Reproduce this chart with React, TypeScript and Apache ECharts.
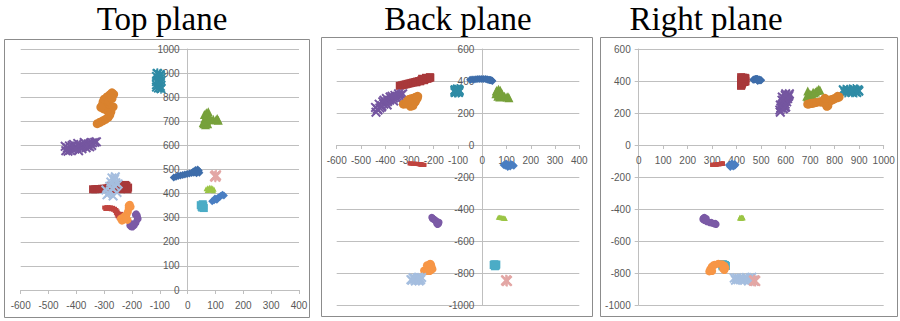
import React, { useEffect, useRef } from "react";
import * as echarts from "echarts";

// Each marker cloud is a list of 3-D samples [x, y, z].
// Top plane plots (x, z), back plane (x, y), right plane (z, y).
type P3 = [number, number, number];

const blueBig: P3[] = [
  [-50, 408, 467], [-42, 409, 470], [-34, 410, 473], [-26, 411, 475], [-18, 412, 477],
  [-10, 413, 479], [-2, 413, 481], [6, 413, 483], [14, 412, 485], [22, 410, 487],
  [28, 408, 489], [34, 406, 492], [40, 403, 495], [36, 404, 500], [28, 406, 498],
  [42, 400, 486], [32, 405, 484], [20, 409, 492],
];
const redBig: P3[] = [
  [-340, 370, 418], [-332, 373, 418], [-324, 376, 419], [-316, 379, 419], [-308, 382, 420],
  [-300, 385, 420], [-292, 388, 421], [-284, 391, 424], [-276, 394, 430], [-268, 397, 434],
  [-260, 400, 428], [-252, 404, 422], [-244, 407, 434], [-236, 411, 428], [-228, 414, 420],
  [-220, 418, 432], [-214, 421, 425], [-272, 392, 418], [-256, 398, 436], [-240, 405, 418],
  [-224, 416, 436], [-216, 424, 418], [-232, 420, 433], [-248, 414, 426],
];
const greenBig: P3[] = [
  [60, 340, 728], [67, 348, 735], [74, 342, 740], [70, 332, 722], [62, 330, 712],
  [56, 320, 695], [58, 338, 690], [64, 305, 686], [72, 300, 690], [68, 315, 702],
  [82, 312, 706], [92, 305, 708], [102, 300, 706], [110, 296, 704], [106, 302, 712],
  [80, 325, 716],
];
const purpleBig: P3[] = [
  [-438, 205, 578], [-430, 218, 576], [-422, 232, 580], [-414, 245, 584], [-406, 255, 588],
  [-398, 265, 592], [-390, 272, 596], [-382, 280, 598], [-374, 287, 601], [-366, 293, 604],
  [-358, 299, 606], [-350, 304, 609], [-342, 309, 611], [-334, 314, 613], [-328, 320, 615],
  [-425, 255, 598], [-410, 270, 604], [-395, 290, 608], [-380, 300, 586], [-365, 275, 590],
  [-440, 235, 596], [-352, 290, 594], [-372, 305, 612], [-415, 238, 600], [-392, 250, 578],
  [-432, 225, 590], [-345, 320, 600], [-405, 280, 585], [-360, 310, 598],
];
const tealBig: P3[] = [
  [-110, 340, 898], [-100, 346, 894], [-112, 335, 886], [-96, 340, 880], [-108, 330, 870],
  [-100, 338, 860], [-112, 345, 852], [-98, 332, 845], [-105, 340, 838], [-96, 345, 835],
  [-112, 328, 842], [-103, 350, 876], [-108, 336, 898], [-98, 328, 890], [-112, 342, 865],
  [-96, 336, 868],
];
const orangeBig: P3[] = [
  [-325, 255, 690], [-315, 257, 696], [-305, 259, 702], [-295, 261, 708], [-286, 263, 716],
  [-280, 266, 726], [-276, 270, 740], [-290, 268, 745], [-302, 272, 752], [-308, 276, 765],
  [-296, 242, 768], [-286, 246, 772], [-304, 282, 780], [-300, 286, 792], [-290, 291, 801],
  [-280, 295, 810], [-272, 300, 818], [-266, 304, 812], [-284, 278, 785], [-272, 286, 795],
  [-312, 264, 758], [-268, 292, 760],
];
const blueSmall: P3[] = [
  [88, -125, 368], [95, -130, 372], [102, -120, 378], [110, -128, 384], [118, -118, 390],
  [125, -124, 395], [105, -138, 374], [115, -134, 386], [130, -130, 392], [98, -115, 380],
];
const redSmall: P3[] = [
  [-300, -115, 342], [-292, -116, 344], [-284, -117, 344], [-276, -117, 343], [-268, -118, 341],
  [-261, -119, 337], [-256, -120, 332], [-252, -121, 326], [-249, -122, 319], [-247, -123, 312],
  [-245, -124, 305], [-242, -125, 300], [-296, -116, 336], [-286, -117, 336], [-276, -118, 335],
  [-268, -119, 333], [-262, -120, 328], [-258, -121, 320], [-255, -122, 313], [-252, -123, 306],
  [-248, -124, 300], [-240, -125, 308], [-238, -124, 316],
];
const greenSmall: P3[] = [
  [66, -451, 420], [72, -452, 424], [78, -454, 426], [84, -455, 426], [90, -457, 423],
  [95, -459, 418], [70, -451, 413], [78, -453, 414], [86, -456, 414], [93, -458, 412],
  [74, -452, 419], [88, -456, 420],
];
const purpleSmall: P3[] = [
  [-208, -452, 268], [-204, -458, 263], [-198, -465, 262], [-192, -472, 268], [-186, -479, 278],
  [-182, -485, 290], [-180, -489, 300], [-181, -493, 309], [-185, -496, 316], [-206, -460, 276],
  [-178, -483, 296], [-196, -470, 275], [-188, -490, 312],
];
const aquaSmall: P3[] = [
  [50, -745, 345], [56, -752, 350], [52, -758, 342], [47, -750, 352], [58, -747, 340],
  [54, -756, 356],
];
const orangeSmall: P3[] = [
  [-236, -790, 288], [-230, -776, 292], [-225, -761, 298], [-220, -749, 310], [-215, -742, 325],
  [-212, -745, 340], [-210, -755, 350], [-208, -768, 354], [-212, -781, 350], [-240, -784, 296],
  [-216, -787, 291], [-205, -776, 345], [-228, -752, 305], [-222, -788, 300],
];
const lightBlue: P3[] = [
  [-285, -830, 400], [-278, -835, 410], [-270, -840, 420], [-262, -845, 432], [-258, -835, 445],
  [-265, -830, 455], [-272, -845, 465], [-260, -850, 470], [-290, -845, 395], [-250, -828, 440],
  [-280, -838, 430], [-294, -842, 415], [-254, -842, 405], [-268, -832, 390], [-276, -850, 448],
  [-262, -826, 462],
];
const pinkSmall: P3[] = [
  [98, -845, 472], [102, -850, 476], [100, -848, 470],
];

// Axis ranges per plane: [min, max, interval]
const topXRange = [-600, 400, 100];
const topYRange = [0, 1000, 100];
const backXRange = [-600, 400, 100];
const backYRange = [-1000, 600, 200];
const rightXRange = [0, 1000, 100];
const rightYRange = [-1000, 600, 200];

const planeTitles = ["Top plane", "Back plane", "Right plane"];

// Marker glyphs
const X_MARK =
  "path://M0 1.4L1.4 0L5 3.6L8.6 0L10 1.4L6.4 5L10 8.6L8.6 10L5 6.4L1.4 10L0 8.6L3.6 5Z";
const STAR_MARK =
  "path://M0 1.4L1.4 0L5 3.6L8.6 0L10 1.4L6.4 5L10 8.6L8.6 10L5 6.4L1.4 10L0 8.6L3.6 5Z" +
  "M4.3 0H5.7V10H4.3Z";

const cloudStyles = [
  { data: blueBig, color: "#3E6DAA", symbol: "diamond", size: 8 },
  { data: redBig, color: "#A8383A", symbol: "rect", size: 8 },
  { data: greenBig, color: "#77A13B", symbol: "triangle", size: 9 },
  { data: purpleBig, color: "#7556A0", symbol: X_MARK, size: 10 },
  { data: tealBig, color: "#2F8BA5", symbol: STAR_MARK, size: 10 },
  { data: orangeBig, color: "#D9822E", symbol: "circle", size: 9 },
  { data: blueSmall, color: "#4A7EC2", symbol: "diamond", size: 8 },
  { data: redSmall, color: "#C0443F", symbol: "rect", size: 4 },
  { data: greenSmall, color: "#9BC545", symbol: "triangle", size: 5 },
  { data: purpleSmall, color: "#7B5AA6", symbol: "circle", size: 7 },
  { data: aquaSmall, color: "#4BACC6", symbol: "rect", size: 8 },
  { data: orangeSmall, color: "#F79646", symbol: "circle", size: 8 },
  { data: lightBlue, color: "#A5BEDF", symbol: X_MARK, size: 10 },
  { data: pinkSmall, color: "#E3A7A5", symbol: STAR_MARK, size: 11 },
];

// Which 3-D component goes on each plane's horizontal / vertical axis
const planeAxes: [number, number][] = [
  [0, 2],
  [0, 1],
  [2, 1],
];

const grids = [
  { left: 20.7, top: 49, width: 278.3, height: 241 },
  { left: 336.7, top: 49, width: 242.6, height: 256 },
  { left: 638.7, top: 49, width: 245, height: 256 },
];
const titleCenters = [162, 458, 706];
const frames = [
  { x: 4.5, y: 39.5, width: 305, height: 278 },
  { x: 321.5, y: 37.5, width: 271, height: 279 },
  { x: 600.5, y: 37.5, width: 297, height: 279 },
];

const LABEL_FONT = "'Liberation Sans', Arial, sans-serif";
const GRID_COLOR = "#BFBFBF";
const AXIS_COLOR = "#BFBFBF";

// Distance (px) from the grid edge to the value 0 of a range spread over `size` px
function zeroOffset(range: number[], size: number) {
  return ((0 - range[0]) / (range[1] - range[0])) * size;
}

function axisBase(range: number[], gridIndex: number, split: boolean, margin: number) {
  return {
    type: "value" as const,
    gridIndex,
    min: range[0],
    max: range[1],
    interval: range[2],
    axisLine: { show: true, onZero: false, lineStyle: { color: AXIS_COLOR, width: 1 } },
    axisTick: { show: true, length: 4, lineStyle: { color: AXIS_COLOR } },
    axisLabel: {
      fontSize: 10,
      color: "#595959",
      fontFamily: LABEL_FONT,
      margin,
      formatter: (v: number) => String(v),
    },
    splitLine: { show: split, lineStyle: { color: GRID_COLOR, width: 1 } },
  };
}

export default function App() {
  const ref = useRef<HTMLDivElement>(null);

  useEffect(() => {
    document.body.style.margin = "0";
    if (!ref.current) return;
    const chart = echarts.init(ref.current, undefined, { renderer: "svg" });

    const xRanges = [topXRange, backXRange, rightXRange];
    const yRanges = [topYRange, backYRange, rightYRange];

    const series: any[] = [];
    planeAxes.forEach(([h, v], gi) => {
      cloudStyles.forEach((c) => {
        series.push({
          type: "scatter",
          xAxisIndex: gi,
          yAxisIndex: gi,
          symbol: c.symbol,
          symbolSize: c.size,
          itemStyle: { color: c.color, opacity: 1 },
          emphasis: { disabled: true },
          silent: true,
          data: c.data.map((p) => [p[h], p[v]]),
        });
      });
    });

    // Axes cross at the origin: shift each axis from the grid edge to value 0
    const xAxes = xRanges.map((r, i) => ({
      ...axisBase(r, i, false, 10),
      position: "bottom",
      offset: -zeroOffset(yRanges[i], grids[i].height),
    }));
    const yAxes = yRanges.map((r, i) => ({
      ...axisBase(r, i, true, 8),
      position: "left",
      offset: -zeroOffset(xRanges[i], grids[i].width),
    }));

    chart.setOption({
      animation: false,
      backgroundColor: "#fff",
      title: planeTitles.map((t, i) => ({
        text: t,
        left: titleCenters[i],
        top: 2,
        textAlign: "center",
        padding: 0,
        textStyle: {
          fontFamily: "'Liberation Serif', 'Times New Roman', serif",
          fontSize: 33,
          fontWeight: "normal",
          color: "#000",
        },
      })),
      grid: grids.map((g) => ({ ...g, outerBoundsMode: "none", containLabel: false })),
      xAxis: xAxes,
      yAxis: yAxes,
      graphic: frames.map((f) => ({
        type: "rect",
        shape: { x: f.x, y: f.y, width: f.width, height: f.height },
        style: { fill: "none", stroke: "#8C8C8C", lineWidth: 1 },
        silent: true,
        z: -1,
      })),
      series,
    });

    return () => chart.dispose();
  }, []);

  return <div ref={ref} style={{ width: 900, height: 321 }} />;
}
